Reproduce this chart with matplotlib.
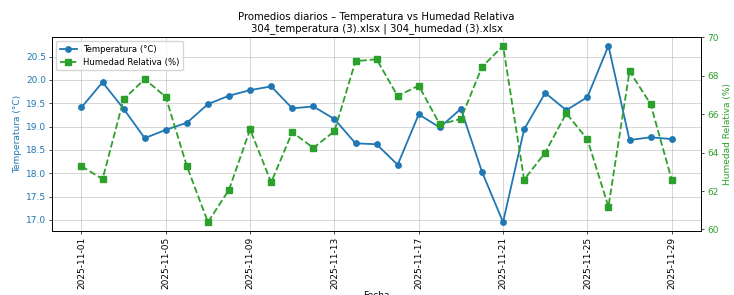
import numpy as np
import pandas as pd
import matplotlib
matplotlib.use("Agg")
import matplotlib.pyplot as plt
import matplotlib.dates as mdates

# --- daily averages ---
fechas = pd.date_range("2025-11-01", "2025-11-29", freq="D")
temperatura = [19.41, 19.95, 19.38, 18.75, 18.93, 19.08, 19.48, 19.66, 19.78, 19.86,
               19.39, 19.43, 19.16, 18.64, 18.62, 18.18, 19.26, 18.98, 19.38, 18.03,
               16.95, 18.94, 19.72, 19.35, 19.63, 20.73, 18.71, 18.77, 18.73]
humedad = [63.29, 62.62, 66.77, 67.82, 66.89, 63.29, 60.38, 62.07, 65.20, 62.45,
           65.06, 64.24, 65.11, 68.75, 68.85, 66.94, 67.48, 65.46, 65.75, 68.45,
           69.55, 62.59, 64.00, 66.04, 64.69, 61.18, 68.23, 66.52, 62.59]

c_temp = "tab:blue"
c_hum = "tab:green"
fs = 6.5

fig = plt.figure(figsize=(7.34, 2.95), dpi=100)
ax1 = fig.add_axes([0.0708, 0.217, 0.8845, 0.6576])
ax2 = ax1.twinx()

l1, = ax1.plot(fechas, temperatura, color=c_temp, marker="o", markersize=3.9,
               linewidth=1.3, label="Temperatura (°C)")
l2, = ax2.plot(fechas, humedad, color=c_hum, marker="s", markersize=3.9,
               linewidth=1.3, linestyle="--", label="Humedad Relativa (%)")

ax1.set_xlabel("Fecha", fontsize=fs, labelpad=1)
ax1.set_ylabel("Temperatura (°C)", color=c_temp, fontsize=fs, labelpad=3)
ax2.set_ylabel("Humedad Relativa (%)", color=c_hum, fontsize=fs, labelpad=3)
ax1.tick_params(axis="y", labelcolor=c_temp, labelsize=fs, length=2.3, width=0.5, pad=2)
ax2.tick_params(axis="y", labelcolor=c_hum, labelsize=fs, length=2.3, width=0.5, pad=2)
ax1.tick_params(axis="x", labelsize=fs, labelrotation=90, length=2.3, width=0.5, pad=2)

ax1.xaxis.set_major_locator(mdates.DayLocator(bymonthday=[1, 5, 9, 13, 17, 21, 25, 29]))
ax1.xaxis.set_major_formatter(mdates.DateFormatter("%Y-%m-%d"))
ax1.set_yticks(np.arange(17.0, 20.51, 0.5))
ax2.set_yticks(np.arange(60, 71, 2))

ax1.grid(True, color="#b0b0b0", alpha=0.6, linewidth=0.6)
for ax in (ax1, ax2):
    for s in ax.spines.values():
        s.set_linewidth(0.6)

ax1.set_title("Promedios diarios – Temperatura vs Humedad Relativa\n"
              "304_temperatura (3).xlsx | 304_humedad (3).xlsx",
              fontsize=7.3, pad=4, linespacing=1.15)
ax1.legend([l1, l2], [l1.get_label(), l2.get_label()], loc="upper left",
           fontsize=6.1, framealpha=0.8, borderpad=0.4, handlelength=2.0)

fig.savefig("out.png", dpi=100)
